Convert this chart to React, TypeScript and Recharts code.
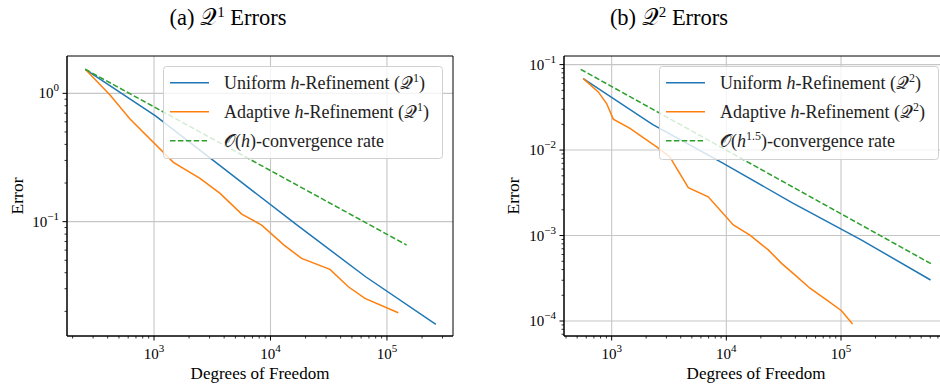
import React from 'react';
import { LineChart, Line, XAxis, YAxis, CartesianGrid, Legend, ReferenceArea } from 'recharts';

const FONT = "'Liberation Serif', 'DejaVu Serif', serif";
const MATH_FONT = "'DejaVu Serif', 'DejaVu Sans', 'Liberation Serif', 'Noto Sans', serif";

const BLUE = '#1f77b4';
const ORANGE = '#ff7f0e';
const GREEN = '#2ca02c';

// ---------- Panel (a): Q1 errors ----------
const q1UniformDofs = [257, 1030, 4110, 16400, 65600, 263000];
const q1UniformErr = [1.54, 0.668, 0.253, 0.096, 0.0372, 0.0158];

const q1AdaptiveDofs = [257, 419, 622, 1466, 2480, 3690, 5660, 8400, 13000, 18500, 32400, 46600, 64700, 125000];
const q1AdaptiveErr = [1.54, 0.97, 0.63, 0.29, 0.217, 0.166, 0.1146, 0.094, 0.066, 0.0517, 0.0425, 0.0311, 0.0252, 0.0195];

const q1RateDofs = [257, 147600];
const q1RateErr = [1.54, 0.0657];

const q1XDomain = [179, 369000];
const q1YDomain = [0.01285, 1.954];
const q1XMajor = [1e3, 1e4, 1e5];
const q1YMajor = [0.1, 1];

// ---------- Panel (b): Q2 errors ----------
const q2UniformDofs = [565, 2285, 9240, 37300, 150000, 604000];
const q2UniformErr = [0.0686, 0.0198, 0.00708, 0.00243, 0.00089, 0.000302];

const q2AdaptiveDofs = [565, 764, 904, 1033, 1444, 2466, 3220, 3690, 4660, 6950, 11500, 16060, 23200, 30300, 39600, 53600, 74800, 101000, 126000];
const q2AdaptiveErr = [0.0686, 0.0479, 0.035, 0.023, 0.0179, 0.0109, 0.0083, 0.0061, 0.00363, 0.00284, 0.00133, 0.00101, 0.00068, 0.000473, 0.000347, 0.000242, 0.000177, 0.000132, 0.0000925];

const q2RateDofs = [537, 617000];
const q2RateErr = [0.088, 0.000464];

const q2XDomain = [384, 857000];
const q2YDomain = [0.0000668, 0.126];
const q2XMajor = [1e3, 1e4, 1e5];
const q2YMajor = [1e-4, 1e-3, 1e-2, 1e-1];

const titles = ['(a) ', '(b) '];
const xLabel = 'Degrees of Freedom';
const yLabel = 'Error';

const toPoints = (xs: number[], ys: number[]) => xs.map((x, i) => ({ x, y: ys[i] }));

// log ticks (majors + minors 2..9) inside a domain
const logTicks = (lo: number, hi: number) => {
  const out: number[] = [];
  for (let d = Math.floor(Math.log10(lo)); d <= Math.ceil(Math.log10(hi)); d++) {
    for (let m = 1; m <= 9; m++) {
      const v = Number((m * Math.pow(10, d)).toPrecision(6));
      if (v >= lo && v <= hi) out.push(v);
    }
  }
  return out;
};

const isMajor = (v: number) => {
  const e = Math.log10(v);
  return Math.abs(e - Math.round(e)) < 1e-9;
};

const expText = (v: number) => {
  const e = Math.round(Math.log10(v));
  return e < 0 ? '\u2212' + String(-e) : String(e);
};

const textStyle = { fontFamily: FONT };

const XTick = (props: any) => {
  const { x, y, payload } = props;
  const v = payload.value;
  const major = isMajor(v);
  return (
    <g>
      <line x1={x} x2={x} y1={y} y2={y + (major ? 4.5 : 2.5)} stroke="#000" strokeWidth={major ? 1 : 0.8} />
      {major && (
        <text x={x} y={y + 23} textAnchor="middle" style={textStyle} fontFamily={FONT} fontSize={15} fill="#000">
          10<tspan dy={-7} fontSize={11}>{expText(v)}</tspan>
        </text>
      )}
    </g>
  );
};

const YTick = (props: any) => {
  const { x, y, payload } = props;
  const v = payload.value;
  const major = isMajor(v);
  return (
    <g>
      <line x1={x - (major ? 4.5 : 2.5)} x2={x} y1={y} y2={y} stroke="#000" strokeWidth={major ? 1 : 0.8} />
      {major && (
        <text x={x - 8} y={y + 5} textAnchor="end" style={textStyle} fontFamily={FONT} fontSize={15} fill="#000">
          10<tspan dy={-7} fontSize={11}>{expText(v)}</tspan>
        </text>
      )}
    </g>
  );
};

type LegendItem = { color: string; dash?: string; label: React.ReactNode };

const LegendBox = ({ items, w, h }: { items: LegendItem[]; w: number; h: number }) => (
  <svg width={w} height={h} style={{ display: 'block', overflow: 'visible' }}>
    <rect x={0.5} y={0.5} width={w - 1} height={h - 1} rx={3} ry={3} fill="#ffffff" fillOpacity={0.8} stroke="#d0d0d0" strokeWidth={1} />
    {items.map((it, i) => {
      const cy = 16.7 + i * 29;
      return (
        <g key={i}>
          <line x1={7} x2={46} y1={cy} y2={cy} stroke={it.color} strokeWidth={1.5} strokeDasharray={it.dash} />
          <text x={61} y={cy + 6} style={textStyle} fontFamily={FONT} fontSize={18} fill="#222">
            {it.label}
          </text>
        </g>
      );
    })}
  </svg>
);

const methodLabel = (kind: string, deg: string) => (
  <>
    {kind} <tspan fontStyle="italic">h</tspan>-Refinement (<tspan fontFamily={MATH_FONT}>𝒬</tspan>
    <tspan dy={-7} fontSize={12}>{deg}</tspan>
    <tspan dy={7}>)</tspan>
  </>
);

const rateLabelQ1 = (
  <>
    <tspan fontFamily={MATH_FONT}>𝒪</tspan>(<tspan fontStyle="italic">h</tspan>)-convergence rate
  </>
);
const rateLabelQ2 = (
  <>
    <tspan fontFamily={MATH_FONT}>𝒪</tspan>(<tspan fontStyle="italic">h</tspan>
    <tspan dy={-7} fontSize={12}>1.5</tspan>
    <tspan dy={7}>)-convergence rate</tspan>
  </>
);

type PanelProps = {
  width: number;
  yAxisWidth: number;
  marginRight: number;
  xDomain: number[];
  yDomain: number[];
  xMajor: number[];
  yMajor: number[];
  uniform: { x: number; y: number }[];
  adaptive: { x: number; y: number }[];
  rate: { x: number; y: number }[];
  legendItems: LegendItem[];
  legendLeft: number;
  legendH: number;
};

const Panel = (p: PanelProps) => {
  const xTicks = logTicks(p.xDomain[0], p.xDomain[1]);
  const yTicks = logTicks(p.yDomain[0], p.yDomain[1]);
  return (
    <LineChart width={p.width} height={385} margin={{ top: 56, right: p.marginRight, bottom: 0, left: 0 }}>
      <CartesianGrid verticalValues={p.xMajor} horizontalValues={p.yMajor} stroke="#c6c6c6" strokeWidth={1.1} />
      <XAxis
        dataKey="x"
        type="number"
        scale="log"
        domain={p.xDomain}
        allowDataOverflow
        ticks={xTicks}
        interval={0}
        height={49}
        tickSize={0}
        tickMargin={0}
        tickLine={false}
        axisLine={{ stroke: '#000', strokeWidth: 1 }}
        tick={<XTick />}
      />
      <YAxis
        dataKey="y"
        type="number"
        scale="log"
        domain={p.yDomain}
        allowDataOverflow
        ticks={yTicks}
        interval={0}
        width={p.yAxisWidth}
        tickSize={0}
        tickMargin={0}
        tickLine={false}
        axisLine={{ stroke: '#000', strokeWidth: 1 }}
        tick={<YTick />}
      />
      <ReferenceArea
        x1={p.xDomain[0]}
        x2={p.xDomain[1]}
        y1={p.yDomain[0]}
        y2={p.yDomain[1]}
        ifOverflow="visible"
        fill="none"
        fillOpacity={0}
        stroke="#000"
        strokeWidth={1}
        strokeOpacity={1}
      />
      <Line data={p.uniform} dataKey="y" name="Uniform" stroke={BLUE} strokeWidth={1.5} dot={false} activeDot={false} isAnimationActive={false} />
      <Line data={p.adaptive} dataKey="y" name="Adaptive" stroke={ORANGE} strokeWidth={1.5} dot={false} activeDot={false} isAnimationActive={false} />
      <Line data={p.rate} dataKey="y" name="Rate" stroke={GREEN} strokeWidth={1.5} strokeDasharray="5.5 2.4" dot={false} activeDot={false} isAnimationActive={false} />
      <Legend
        layout="vertical"
        align="center"
        verticalAlign="middle"
        wrapperStyle={{ position: 'absolute', left: p.legendLeft, top: 66, width: 280, height: p.legendH, margin: 0, padding: 0 }}
        content={() => <LegendBox items={p.legendItems} w={280} h={p.legendH} />}
      />
    </LineChart>
  );
};

export default function App() {
  return (
    <div style={{ position: 'absolute', left: 0, top: 0, width: 940, height: 385, overflow: 'hidden', background: '#fff' }}>
      <div style={{ position: 'absolute', left: 0, top: 0 }}>
        <Panel
          width={470}
          yAxisWidth={67}
          marginRight={17}
          xDomain={q1XDomain}
          yDomain={q1YDomain}
          xMajor={q1XMajor}
          yMajor={q1YMajor}
          uniform={toPoints(q1UniformDofs, q1UniformErr)}
          adaptive={toPoints(q1AdaptiveDofs, q1AdaptiveErr)}
          rate={toPoints(q1RateDofs, q1RateErr)}
          legendItems={[
            { color: BLUE, label: methodLabel('Uniform', '1') },
            { color: ORANGE, label: methodLabel('Adaptive', '1') },
            { color: GREEN, dash: '5.5 2.4', label: rateLabelQ1 },
          ]}
          legendLeft={163}
          legendH={93}
        />
      </div>
      <div style={{ position: 'absolute', left: 470, top: 0 }}>
        <Panel
          width={480}
          yAxisWidth={94}
          marginRight={2}
          xDomain={q2XDomain}
          yDomain={q2YDomain}
          xMajor={q2XMajor}
          yMajor={q2YMajor}
          uniform={toPoints(q2UniformDofs, q2UniformErr)}
          adaptive={toPoints(q2AdaptiveDofs, q2AdaptiveErr)}
          rate={toPoints(q2RateDofs, q2RateErr)}
          legendItems={[
            { color: BLUE, label: methodLabel('Uniform', '2') },
            { color: ORANGE, label: methodLabel('Adaptive', '2') },
            { color: GREEN, dash: '5.5 2.4', label: rateLabelQ2 },
          ]}
          legendLeft={189}
          legendH={94}
        />
      </div>
      <svg width={940} height={385} style={{ position: 'absolute', left: 0, top: 0, pointerEvents: 'none' }}>
        <text x={228} y={25} textAnchor="middle" style={textStyle} fontFamily={FONT} fontSize={22.5} fill="#000">
          {titles[0]}<tspan fontFamily={MATH_FONT}>𝒬</tspan><tspan dy={-8} fontSize={15}>1</tspan><tspan dy={8}> Errors</tspan>
        </text>
        <text x={669} y={25} textAnchor="middle" style={textStyle} fontFamily={FONT} fontSize={22.5} fill="#000">
          {titles[1]}<tspan fontFamily={MATH_FONT}>𝒬</tspan><tspan dy={-8} fontSize={15}>2</tspan><tspan dy={8}> Errors</tspan>
        </text>
        <text x={260} y={379} textAnchor="middle" style={textStyle} fontFamily={FONT} fontSize={17} fill="#000">{xLabel}</text>
        <text x={756} y={379} textAnchor="middle" style={textStyle} fontFamily={FONT} fontSize={17} fill="#000">{xLabel}</text>
        <text x={17} y={196} textAnchor="middle" dominantBaseline="central" transform="rotate(-90 17 196)" style={textStyle} fontFamily={FONT} fontSize={17.5} fill="#000">{yLabel}</text>
        <text x={513} y={196} textAnchor="middle" dominantBaseline="central" transform="rotate(-90 513 196)" style={textStyle} fontFamily={FONT} fontSize={17.5} fill="#000">{yLabel}</text>
      </svg>
    </div>
  );
}
